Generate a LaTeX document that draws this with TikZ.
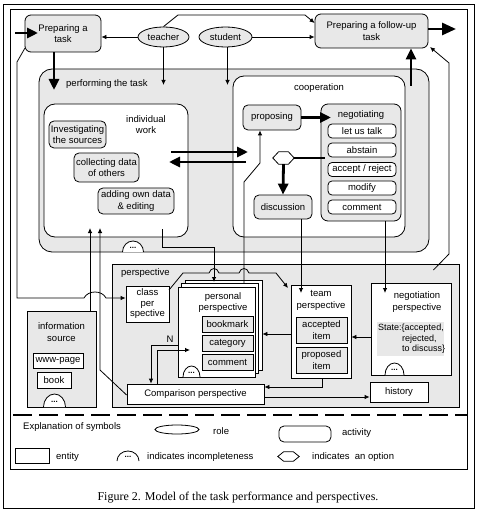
\documentclass[tikz,border=0pt]{standalone}
\usepackage{fontspec}
\setmainfont{Liberation Sans}
\newfontfamily\capfont{Liberation Serif}
\usetikzlibrary{arrows.meta,shapes.geometric,calc}
\newcommand\dome[5]{%
  \filldraw[fill=white, line width=0.8pt] ({#2-#4},#3) arc[start angle=180, end angle=360, x radius=#4, y radius=#5];
  \node[font=\fontsize{8}{8}\selectfont\bfseries] (#1) at (#2,{#3-#5*0.4}) {...};}
\newcommand\hexa[1]{%
  \filldraw[fill=white, line width=0.8pt] (#1.west) -- ($(#1.north west)!0.27!(#1.north east)$) -- ($(#1.north west)!0.73!(#1.north east)$) -- (#1.east) -- ($(#1.south west)!0.73!(#1.south east)$) -- ($(#1.south west)!0.27!(#1.south east)$) -- cycle;}
\tikzset{
  every node/.style={font=\fontsize{9.5}{11.5}\selectfont, inner sep=0pt, align=center},
  ln/.style={line width=0.8pt},
  act/.style={draw, line width=0.8pt, fill=gray!18, rounded corners=5pt},
  actw/.style={draw, line width=0.8pt, fill=white, rounded corners=5pt},
  ent/.style={draw, line width=0.8pt, fill=white},
  entg/.style={draw, line width=0.8pt, fill=gray!18},
  role/.style={draw, ellipse, line width=0.8pt, fill=gray!18},
  thinarr/.style={line width=0.8pt, -{Latex[length=5pt,width=4.5pt]}},
  thickarr/.style={line width=2.8pt, -{Triangle[length=11pt,width=10pt]}},
}
\begin{document}
\begin{tikzpicture}[x=1pt,y=-1pt]
\useasboundingbox (0,0) rectangle (477,518);
\fill[white] (0,0) rectangle (477,518);
\draw[ln] (3,4) rectangle (474,508);
\draw[ln] (10,9) rectangle (467,469);

% top row
\node[act, rounded corners=6pt, minimum width=76pt, minimum height=37pt] (prep) at (63,33.5) {Preparing a\\task};
\node[act, rounded corners=6pt, minimum width=113pt, minimum height=34pt] (follow) at (371.5,31) {Preparing a follow-up\\task};
\node[role, minimum width=51pt, minimum height=20pt] (teacher) at (163.5,37) {teacher};
\node[role, minimum width=53pt, minimum height=20pt] (student) at (225.5,37) {student};

% performing the task
\node[act, rounded corners=13pt, minimum width=390pt, minimum height=183pt] (perform) at (234,160.5) {};
\node[anchor=west] (performlbl) at (66,84) {performing the task};
\dome{performdots}{133}{252}{10.5}{11}

\node[actw, rounded corners=11pt, minimum width=144pt, minimum height=133pt] (indiv) at (116,170.5) {};
\node (indivlbl) at (146,124.5) {individual\\work};
\node[act, minimum width=57pt, minimum height=27pt] (invest) at (77.5,134.5) {Investigating\\the sources};
\node[act, minimum width=65pt, minimum height=29pt] (collect) at (106.5,167.5) {collecting data\\of others};
\node[act, minimum width=76pt, minimum height=26pt] (adding) at (136,201) {adding own data\\\& editing};

\node[actw, rounded corners=11pt, minimum width=172pt, minimum height=161pt] (coop) at (319,156.5) {};
\node (cooplbl) at (319,88) {cooperation};
\node[act, minimum width=58pt, minimum height=25pt] (proposing) at (272,117.5) {proposing};
\node[act, rounded corners=7pt, minimum width=80pt, minimum height=117pt] (negot) at (361,162.5) {};
\node (negotlbl) at (361,115) {negotiating};
\node[actw, rounded corners=4pt, minimum width=68pt, minimum height=14pt] (i1) at (362,131) {let us talk};
\node[actw, rounded corners=4pt, minimum width=68pt, minimum height=14pt] (i2) at (362,150) {abstain};
\node[actw, rounded corners=4pt, minimum width=68pt, minimum height=14pt] (i3) at (362,169.5) {accept / reject};
\node[actw, rounded corners=4pt, minimum width=68pt, minimum height=14pt] (i4) at (362,188) {modify};
\node[actw, rounded corners=4pt, minimum width=68pt, minimum height=14pt] (i5) at (362,207) {comment};
\node[minimum width=21pt, minimum height=12pt] (opt) at (283.5,158) {};
\hexa{opt}
\node[act, minimum width=58pt, minimum height=24pt] (discussion) at (283,207) {discussion};

% perspective
\node[entg, minimum width=347pt, minimum height=143pt] (persp) at (285.5,335.5) {};
\node[anchor=west] (persplbl) at (121,273) {perspective};
\node[ent, minimum width=43pt, minimum height=36pt, font=\fontsize{9.5}{10.5}\selectfont] (classp) at (147.5,304) {class\\per\\spective};
\node[ent, minimum width=77pt, minimum height=90pt] (pers3) at (223.5,325) {};
\node[ent, minimum width=77pt, minimum height=90pt] (pers2) at (220,328.5) {};
\node[ent, minimum width=77pt, minimum height=90pt] (pers) at (216.5,332) {};
\node (perslbl) at (223,302.5) {personal\\perspective};
\node[entg, minimum width=51pt, minimum height=16pt] (bm) at (227.5,324) {bookmark};
\node[entg, minimum width=51pt, minimum height=16pt] (cat) at (227.5,343.5) {category};
\node[entg, minimum width=51pt, minimum height=16pt] (pcom) at (227.5,362.5) {comment};
\dome{persdots}{191.5}{377}{8.5}{11}

\node[ent, minimum width=60pt, minimum height=93pt] (team) at (321,331.5) {};
\node (teamlbl) at (321,300.5) {team\\perspective};
\node[entg, minimum width=51pt, minimum height=26pt] (acc) at (321.5,330) {accepted\\item};
\node[entg, minimum width=51pt, minimum height=26pt] (prop) at (321.5,360) {proposed\\item};

\node[ent, minimum width=80pt, minimum height=92pt] (negp) at (411,329) {};
\node (negplbl) at (417,302) {negotiation\\perspective};
\node[fill=gray!18, minimum width=67pt, minimum height=34pt] (state) at (410.5,339) {};
\node[anchor=north west, align=left, font=\fontsize{9}{10.5}\selectfont] (statetxt) at (378,324) {State:\{accepted,\\\hspace*{24pt}rejected,\\\hspace*{24pt}to discuss\}};
\dome{negpdots}{394.5}{375}{9.5}{12}

\node[ent, minimum width=137pt, minimum height=20pt] (compare) at (195.5,394) {Comparison perspective};
\node[ent, minimum width=58pt, minimum height=20pt] (history) at (399,392) {history};
\node (nlbl) at (170,339) {N};

\node[entg, minimum width=69pt, minimum height=96pt] (info) at (61.5,359) {};
\node (infolbl) at (61.5,332) {information\\source};
\node[ent, minimum width=50pt, minimum height=15pt] (www) at (58,360.5) {www-page};
\node[ent, minimum width=34pt, minimum height=16pt] (book) at (54,380) {book};
\dome{infodots}{54.5}{407}{11}{13}

% thick arrows
\coordinate (inp) at (15,33);
\draw[thickarr] (inp) -- (38,33);
\draw[thickarr] (prep.south -| 54,0) -- (54,90);
\draw[line width=2.8pt, -{Triangle[length=14pt,width=12pt]}] (follow.east |- 0,29) -- (456,29);
\draw[thickarr] (411,86) -- (follow.south -| 411,0);
\draw[thickarr] (171,152) -- (248,152);
\draw[thickarr] (246,162) -- (169,162);
\draw[thickarr] (proposing.east) -- (331,117.5);
\draw[line width=2.8pt] (opt.east) -- (325,158);
\draw[thickarr] (opt.south) -- (discussion.north);

% thin arrows
\draw[thinarr] (teacher.west) -- (teacher.west -| prep.east);
\draw[thinarr] (student.east) -- (student.east -| follow.west);
\draw[thinarr] (teacher.north) -- (178,15) -- (305,15) -- (follow.west |- 0,23);
\draw[thinarr] (teacher.south) -- (teacher.south |- 0,85);
\draw[thinarr] (student.south -| 227.5,0) -- (227.5,85);
\draw[thinarr] (persp.north east |- 0,270) ++(-26,0) -- (449,254) -- (449,63) -- (430,47);
\draw[thinarr] (25,48) -- (17,62) -- (17,298) -- (84,298) .. controls (88,290) and (102,290) .. (106,298) -- (classp.west |- 0,298);
\draw[thinarr] (info.north -| 90,0) -- (90,228);
\draw[thinarr] (compare.west |- 0,395) -- (100,370) -- (100,228);
\draw[thinarr] (162,229) -- (162,247) -- (214,247) -- (214,282);
\draw[thinarr] (pers2.north -| 244,0) -- (244,182) -- (260,163) -- (proposing.south -| 260,0);
\draw[thinarr] (discussion.south -| 301,0) -- (301,293);
\draw[thinarr] (negot.south -| 385,0) -- (385,293);
\draw[thinarr] (169,290) -- (183,273) -- (209,273) .. controls (211,267) and (217,267) .. (219,273) -- (239,273) .. controls (241,267) and (247,267) .. (249,273) -- (276,273) -- (288,288);
\draw[thinarr] (team.west |- 0,334) -- (pers3.east |- 0,334);
\draw[thinarr] (negp.west |- 0,337) -- (team.east |- 0,337);
\draw[thinarr] (team.south -| 322,0) -- (322,387) -- (compare.east |- 0,387);
\draw[thinarr] (compare.east |- 0,397) -- (history.west |- 0,397);
\draw[thinarr] (pers.west |- 0,345) -- (151,345) -- (compare.north -| 151,0);
\draw[thinarr] (compare.north -| 157,0) -- (157,350) -- (190,350);

% separator
\draw[line width=2pt, dash pattern=on 19pt off 7pt] (13,415) -- (467,415);

% legend
\node[anchor=west] (leg0) at (23,427) {Explanation of symbols};
\node[draw, ellipse, ln, minimum width=44pt, minimum height=9pt] (legrole) at (177,429.5) {};
\node[anchor=west] (legroletxt) at (213,431) {role};
\node[draw, ln, rounded corners=5pt, minimum width=52pt, minimum height=16pt] (legact) at (305,434) {};
\node[anchor=west] (legacttxt) at (342,433) {activity};
\node[draw, ln, minimum width=34pt, minimum height=15pt] (legent) at (32,455.5) {};
\node[anchor=west] (legenttxt) at (56,457) {entity};
\dome{legdots}{128}{461}{11}{10}
\node[anchor=west] (legdometxt) at (147,457) {indicates incompleteness};
\node[minimum width=21pt, minimum height=9pt] (legopt) at (288.5,456.5) {};
\hexa{legopt}
\node[anchor=west] (legopttxt) at (312,457) {indicates\ \ an option};

\node[font=\capfont\fontsize{12}{14}\selectfont] (cap) at (238,498) {Figure 2. Model of the task performance and perspectives.};
\end{tikzpicture}
\end{document}
